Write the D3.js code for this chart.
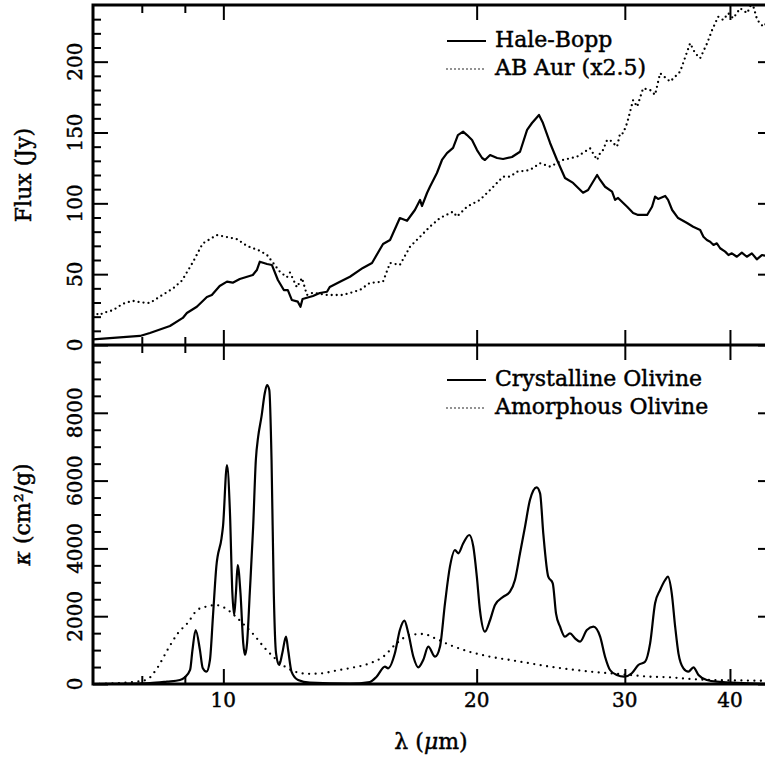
<!DOCTYPE html>
<html>
<head>
<meta charset="utf-8">
<script src="https://cdn.jsdelivr.net/npm/d3@7"></script>
<style>
  html, body { margin: 0; padding: 0; background: #fff; }
  svg { display: block; }
  text { font-family: "DejaVu Serif", serif; fill: #000; stroke: #000; stroke-width: 0.45px; }
</style>
</head>
<body>
<svg id="chart" width="765" height="757"></svg>
<script>
// ---------------- DATA ----------------
const xMajorTicks = [10, 20, 30, 40];
const xMinorTicks = [8, 9];
const fluxMajorTicks = [0, 50, 100, 150, 200];
const fluxMinorTicks = [10,20,30,40,60,70,80,90,110,120,130,140,160,170,180,190,210,220,230];
const kappaMajorTicks = [0, 2000, 4000, 6000, 8000];
const kappaMinorTicks = [500,1000,1500,2500,3000,3500,4500,5000,5500,6500,7000,7500,8500,9000,9500];

const topLegend = ["Hale-Bopp", "AB Aur (x2.5)"];
const bottomLegend = ["Crystalline Olivine", "Amorphous Olivine"];

// Hale-Bopp flux (Jy): [lambda um, flux]
const haleBopp = [
 [7.0,4.0],[7.96,6.4],[8.18,8.5],[8.64,13.4],[8.95,19.1],[9.05,22.6],[9.30,27.0],[9.56,33.9],[9.69,35.3],
 [9.90,41.6],[10.10,44.7],[10.26,44.0],[10.46,46.6],[10.84,49.4],[10.96,52.9],[11.05,58.8],[11.27,57.2],
 [11.42,56.5],[11.61,45.9],[11.80,38.8],[11.93,38.8],[12.06,31.8],[12.26,30.6],[12.35,27.0],[12.42,32.5],
 [12.78,34.6],[13.02,36.7],[13.28,37.6],[13.38,40.9],[13.76,44.7],[14.14,48.2],[14.65,54.4],[15.02,57.9],
 [15.48,71.3],[15.78,74.1],[16.21,89.6],[16.53,87.7],[16.89,95.3],[17.13,102.4],[17.22,98.1],[17.46,107.3],
 [17.60,111.7],[17.94,121.4],[18.19,130.6],[18.44,135.5],[18.75,139.1],[19.00,148.2],[19.27,150.6],
 [19.48,148.2],[19.75,144.7],[20.02,137.6],[20.30,132.0],[20.46,130.6],[20.75,134.1],[21.15,132.0],
 [21.50,131.3],[22.03,132.7],[22.52,136.4],[22.96,151.8],[23.27,156.7],[23.72,162.4],[23.98,156.7],
 [24.45,142.6],[24.92,130.6],[25.47,117.9],[26.04,114.4],[26.76,107.5],[27.13,109.4],[27.81,120.0],
 [28.04,116.5],[28.42,111.7],[28.97,108.2],[29.21,102.4],[29.45,103.8],[30.19,97.6],[30.69,93.2],
 [31.11,91.8],[31.89,91.8],[32.32,97.6],[32.59,104.7],[32.86,103.1],[33.50,105.2],[33.77,102.4],
 [34.15,95.3],[34.71,89.6],[35.57,86.1],[36.17,83.5],[36.87,81.2],[37.20,76.4],[37.55,74.1],[37.89,72.9],
 [38.24,70.6],[38.59,71.8],[38.94,68.3],[39.48,65.9],[39.84,63.5],[40.21,64.7],[40.76,62.3],[41.32,65.2],
 [41.89,62.3],[42.47,64.7],[43.05,60.5],[43.65,63.5],[45.0,62.0]
];

// AB Aur flux x2.5 (Jy)
const abAur = [
 [7.0,23.5],[7.13,21.0],[7.19,22.6],[7.39,24.5],[7.59,29.0],[7.80,31.2],[8.00,30.0],[8.18,29.6],[8.41,34.3],
 [8.71,39.8],[8.93,45.5],[9.20,58.4],[9.45,71.6],[9.82,77.6],[10.10,76.2],[10.38,74.7],[10.66,70.0],
 [11.05,66.5],[11.27,63.5],[11.67,51.8],[11.90,47.8],[12.00,51.1],[12.23,40.7],[12.40,47.3],[12.57,35.3],
 [12.78,36.9],[13.28,35.3],[13.87,35.3],[14.53,38.8],[14.93,43.8],[15.48,44.7],[15.78,57.9],[16.21,56.5],
 [16.67,69.4],[17.13,76.4],[17.60,83.5],[18.09,89.6],[18.75,94.1],[18.95,90.6],[19.48,97.6],[20.18,102.4],
 [20.75,109.4],[21.50,118.8],[21.91,118.8],[22.34,122.3],[23.14,123.5],[23.79,128.3],[24.45,125.9],
 [25.33,130.6],[26.32,132.9],[27.28,138.8],[27.81,130.6],[28.04,135.5],[28.26,137.6],[28.58,144.7],
 [28.81,144.7],[29.05,142.6],[29.37,140.0],[29.62,149.6],[29.86,149.4],[30.19,156.7],[30.69,172.9],
 [31.03,168.2],[31.54,181.2],[32.15,180.0],[32.59,176.5],[33.04,191.8],[33.96,185.9],[34.90,192.9],
 [35.87,213.0],[36.36,206.0],[36.87,202.4],[37.58,213.0],[38.10,222.4],[38.73,231.7],[39.27,229.4],
 [39.81,234.2],[40.36,230.6],[41.14,237.7],[41.93,234.2],[42.50,242.0],[43.10,229.4],[43.81,224.7],[45.0,232.0]
];

// Crystalline olivine mass absorption coefficient (cm^2/g)
const crystalline = [
 [7.0,0],[8.18,25],[8.57,70],[8.88,118],[9.00,200],[9.13,413],[9.19,1003],[9.27,1593],[9.38,1000],
 [9.45,472],[9.55,364],[9.64,708],[9.72,2000],[9.81,3461],[9.95,4298],[9.99,4640],[10.10,6460],
 [10.18,5133],[10.25,2684],[10.30,2035],[10.35,2684],[10.40,3510],[10.48,2684],[10.56,1200],[10.61,855],
 [10.67,1200],[10.75,2684],[10.85,4640],[10.93,6608],[11.00,7295],[11.10,7885],[11.20,8576],[11.27,8820],
 [11.34,8673],[11.41,6608],[11.48,2684],[11.55,914],[11.65,560],[11.75,905],[11.87,1395],[11.94,1003],
 [12.05,364],[12.27,118],[12.67,38],[14.14,10],[14.93,60],[15.21,215],[15.56,510],[15.70,463],[15.99,905],
 [16.21,1593],[16.41,1868],[16.59,1496],[16.82,805],[17.05,493],[17.28,708],[17.52,1100],[17.85,805],
 [18.09,1100],[18.34,2380],[18.59,3461],[18.85,3953],[19.02,3855],[19.28,4150],[19.60,4396],[19.82,4050],
 [20.01,3166],[20.18,2183],[20.46,1543],[20.75,1888],[21.03,2331],[21.52,2576],[21.91,2723],[22.21,3068],
 [22.52,3855],[22.83,4640],[23.14,5428],[23.57,5803],[23.79,5626],[24.00,4446],[24.33,3166],[24.63,2971],
 [24.85,2085],[25.13,1690],[25.47,1395],[25.82,1496],[26.18,1348],[26.54,1248],[27.04,1593],[27.53,1690],
 [28.04,1395],[28.42,805],[28.81,413],[29.35,265],[29.94,215],[30.58,316],[31.13,560],[31.71,658],
 [32.15,1200],[32.59,2380],[33.04,2773],[33.50,3068],[33.75,3166],[34.11,2676],[34.43,1690],[34.74,905],
 [35.22,463],[35.70,364],[36.20,493],[36.70,265],[37.55,118],[38.59,68],[45.0,0]
];

// Amorphous olivine (cm^2/g)
const amorphous = [
 [7.0,0],[7.8,60],[8.1,120],[8.35,480],[8.58,1000],[8.83,1496],[9.07,1800],[9.32,2190],[9.58,2290],
 [9.79,2330],[10.03,2250],[10.30,2030],[10.59,1740],[10.88,1440],[11.19,1070],[11.50,770],[11.82,520],
 [12.15,370],[12.6,300],[13.1,316],[13.6,392],[14.1,463],[14.93,610],[15.49,805],[16.07,1200],
 [16.67,1445],[17.28,1475],[17.85,1348],[18.59,1150],[19.6,953],[20.75,805],[21.91,708],[23.14,610],
 [24.45,510],[25.82,433],[27.28,364],[28.81,316],[30.44,265],[32.15,215],[33.96,197],[35.87,148],
 [37.9,118],[42.6,100],[45.0,90]
];

// ---------------- CHART ----------------
const svg = d3.select("#chart");
const L = 93, R = 773, T = 5, M = 345, B = 684;

const x = d3.scaleLog().domain([7, 45]).range([L, R]);
const yTop = d3.scaleLinear().domain([0, 240]).range([M, T]);
const yBot = d3.scaleLinear().domain([0, 10000]).range([B, M]);

const defs = svg.append("defs");
defs.append("clipPath").attr("id", "clipTop").append("rect")
  .attr("x", L).attr("y", T).attr("width", R - L).attr("height", M - T);
defs.append("clipPath").attr("id", "clipBot").append("rect")
  .attr("x", L).attr("y", M).attr("width", R - L).attr("height", B - M);

function axisG(gen, tx, ty, width) {
  const g = svg.append("g").attr("transform", `translate(${tx},${ty})`).call(gen);
  g.select(".domain").remove();
  g.selectAll(".tick line").attr("stroke", "#000").attr("stroke-width", width);
  g.selectAll(".tick text").remove();
  return g;
}

// X ticks on each panel edge (inward)
[[T, "down"], [M, "up"], [M, "down"], [B, "up"]].forEach(([yy, dir]) => {
  const mk = dir === "down" ? d3.axisBottom : d3.axisTop;
  axisG(mk(x).tickValues(xMajorTicks).tickSize(15).tickFormat(""), 0, yy, 2);
  axisG(mk(x).tickValues(xMinorTicks).tickSize(8).tickFormat(""), 0, yy, 2);
});

// Y ticks (left and right, inward)
function yTicks(scale, major, minor) {
  axisG(d3.axisRight(scale).tickValues(major).tickSize(15).tickFormat(""), L, 0, 2);
  axisG(d3.axisRight(scale).tickValues(minor).tickSize(8).tickFormat(""), L, 0, 2);
  axisG(d3.axisLeft(scale).tickValues(major).tickSize(15).tickFormat(""), R, 0, 2);
  axisG(d3.axisLeft(scale).tickValues(minor).tickSize(8).tickFormat(""), R, 0, 2);
}
yTicks(yTop, fluxMajorTicks, fluxMinorTicks);
yTicks(yBot, kappaMajorTicks, kappaMinorTicks);

// Frames
svg.append("rect").attr("x", L).attr("y", T).attr("width", R - L).attr("height", B - T)
  .attr("fill", "none").attr("stroke", "#000").attr("stroke-width", 3);
svg.append("line").attr("x1", L).attr("x2", R).attr("y1", M).attr("y2", M)
  .attr("stroke", "#000").attr("stroke-width", 3);

// Tick labels
svg.append("g").selectAll("text").data(xMajorTicks).join("text")
  .attr("x", d => x(d)).attr("y", 707).attr("text-anchor", "middle")
  .attr("font-size", 20).text(d => d);

function yLabels(scale, vals) {
  svg.append("g").selectAll("text").data(vals).join("text")
    .attr("transform", d => `translate(82,${scale(d)}) rotate(-90)`)
    .attr("text-anchor", "middle").attr("font-size", 20).text(d => d);
}
yLabels(yTop, fluxMajorTicks);
yLabels(yBot, kappaMajorTicks);

// Axis titles
svg.append("text").attr("transform", `translate(31,${(T + M) / 2}) rotate(-90)`)
  .attr("text-anchor", "middle").attr("font-size", 22).text("Flux (Jy)");
const kt = svg.append("text").attr("transform", `translate(30,${(M + B) / 2}) rotate(-90)`)
  .attr("text-anchor", "middle").attr("font-size", 22);
kt.append("tspan").attr("font-style", "italic").text("κ");
kt.append("tspan").text(" (cm²/g)");
const xt = svg.append("text").attr("x", (L + R) / 2 - 2).attr("y", 749)
  .attr("text-anchor", "middle").attr("font-size", 22);
xt.append("tspan").text("λ (");
xt.append("tspan").attr("font-style", "italic").text("μ");
xt.append("tspan").text("m)");

// Lines
const lineTopLin = d3.line().x(d => x(d[0])).y(d => yTop(d[1]));
const lineBot = d3.line().x(d => x(d[0])).y(d => yBot(d[1])).curve(d3.curveMonotoneX);

const gTop = svg.append("g").attr("clip-path", "url(#clipTop)");
gTop.append("path").datum(haleBopp).attr("d", lineTopLin)
  .attr("fill", "none").attr("stroke", "#000").attr("stroke-width", 2.2).attr("stroke-linejoin", "round");
gTop.append("path").datum(abAur).attr("d", lineTopLin)
  .attr("fill", "none").attr("stroke", "#000").attr("stroke-width", 2.3)
  .attr("stroke-dasharray", "0 5").attr("stroke-linecap", "round");

const gBot = svg.append("g").attr("clip-path", "url(#clipBot)");
gBot.append("path").datum(crystalline).attr("d", lineBot)
  .attr("fill", "none").attr("stroke", "#000").attr("stroke-width", 2.2).attr("stroke-linejoin", "round");
gBot.append("path").datum(amorphous).attr("d", lineBot)
  .attr("fill", "none").attr("stroke", "#000").attr("stroke-width", 2.3)
  .attr("stroke-dasharray", "0 6.5").attr("stroke-linecap", "round");

// Legends
function legend(items, y0) {
  items.forEach((t, i) => {
    const yy = y0 + i * 28;
    svg.append("line").attr("x1", 447).attr("x2", 486).attr("y1", yy).attr("y2", yy)
      .attr("stroke", "#000").attr("stroke-width", i === 0 ? 2 : 1.6)
      .attr("stroke-dasharray", i === 0 ? null : "0 4").attr("stroke-linecap", i === 0 ? "butt" : "round");
    svg.append("text").attr("x", 495).attr("y", yy + 6).attr("font-size", 22).text(t);
  });
}
legend(topLegend, 41);
legend(bottomLegend, 380);
</script>
</body>
</html>
